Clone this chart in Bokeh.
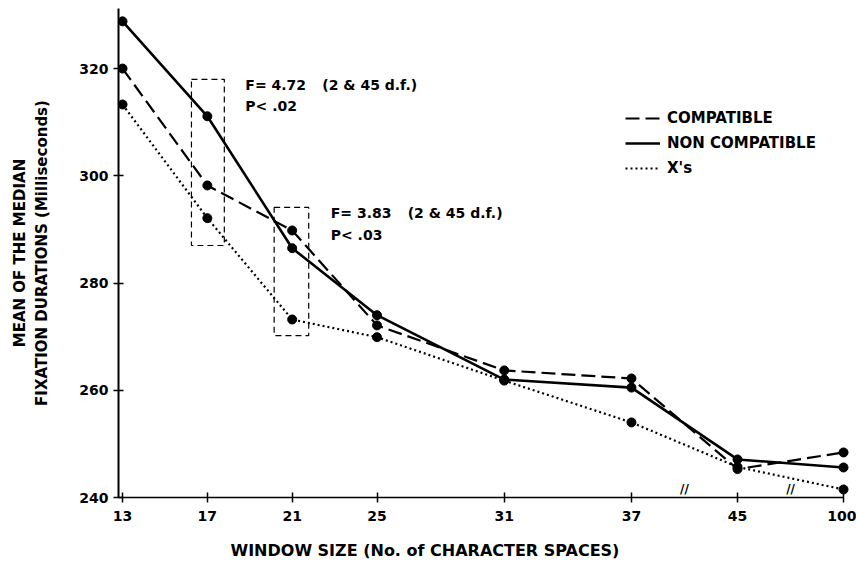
from bokeh.plotting import figure
from bokeh.models import (FixedTicker, Legend, LegendItem, Label, Title, Range1d)
from bokeh.embed import file_html
from bokeh.resources import INLINE

# Window sizes (number of character spaces) on the x axis
window_sizes = [13, 17, 21, 25, 31, 37, 45, 100]

# Mean of the median fixation durations (ms)
compatible = [320.0, 298.2, 289.8, 272.1, 263.7, 262.2, 245.3, 248.4]
non_compatible = [328.8, 311.1, 286.5, 274.0, 262.0, 260.5, 247.1, 245.6]
xs_condition = [313.3, 292.1, 273.2, 269.9, 261.8, 254.0, 245.7, 241.5]

y_ticks = [240, 260, 280, 300, 320]

# Axis is linear up to 37, then broken: each later size gets a fixed slot
LINEAR_MAX = 37
BREAK_SLOT = 5


def axis_pos(values):
    out = []
    k = 0
    for v in values:
        if v <= LINEAR_MAX:
            out.append(v)
        else:
            k += 1
            out.append(LINEAR_MAX + BREAK_SLOT * k)
    return out


x_pos = axis_pos(window_sizes)

FONT = "DejaVu Sans"
INK = "black"

x_start = x_pos[0] - 0.19
x_end = x_pos[-1] + 0.47
y_start, y_end = 240, 331.2

p = figure(width=856, height=576, output_backend="svg", toolbar_location=None,
           x_range=Range1d(x_start, x_end), y_range=Range1d(y_start, y_end),
           min_border_left=118, min_border_right=3, min_border_top=8,
           min_border_bottom=79)
p.grid.visible = False
p.outline_line_color = None
p.background_fill_color = "white"
p.border_fill_color = "white"

# --- axes ---
for ax in (p.xaxis[0], p.yaxis[0]):
    ax.axis_line_color = INK
    ax.major_tick_line_color = INK
    ax.major_tick_line_width = 1.5
    ax.major_tick_in = 5
    ax.major_tick_out = 5
    ax.minor_tick_line_color = None
    ax.major_label_text_font = FONT
    ax.major_label_text_font_style = "bold"
    ax.major_label_text_font_size = "14px"
    ax.major_label_text_color = INK

p.xaxis.ticker = FixedTicker(ticks=x_pos)
p.xaxis.major_label_overrides = {pos: str(w) for pos, w in zip(x_pos, window_sizes)}
p.xaxis.bounds = (x_start, x_pos[-1])
p.xaxis.axis_line_width = 1.5
p.xaxis.major_label_standoff = 8

p.yaxis.ticker = FixedTicker(ticks=y_ticks)
p.yaxis.axis_line_width = 2
p.yaxis.major_label_standoff = 5

# y axis title: second line as the axis label, first line as a side title
p.yaxis.axis_label = "FIXATION DURATIONS (Milliseconds)"
p.yaxis.axis_label_standoff = 25
p.yaxis.axis_label_text_font = FONT
p.yaxis.axis_label_text_font_style = "bold"
p.yaxis.axis_label_text_font_size = "15px"
p.yaxis.axis_label_text_color = INK
p.add_layout(Title(text="MEAN OF THE MEDIAN", align="center",
                   text_font=FONT, text_font_style="bold",
                   text_font_size="15px", text_color=INK, standoff=3), "left")

# x axis title
p.add_layout(Title(text="WINDOW SIZE  (No. of CHARACTER SPACES)", align="left",
                   offset=112, text_font=FONT, text_font_style="bold",
                   text_font_size="16px", text_color=INK, standoff=30), "below")

# --- significance boxes around 17 and 21 ---
p.quad(left=[17 - 0.75, 21 - 0.85], right=[17 + 0.8, 21 + 0.78],
       bottom=[287.0, 270.2], top=[318.0, 294.1],
       fill_color=None, line_color=INK, line_width=1.2, line_dash="6 4")

# --- series ---
r_comp = p.line(x_pos, compatible, line_color=INK, line_width=2.2, line_dash="14 6")
r_non = p.line(x_pos, non_compatible, line_color=INK, line_width=2.6)
r_xs = p.line(x_pos, xs_condition, line_color=INK, line_width=2.2, line_dash="2 3")
for series in (compatible, non_compatible, xs_condition):
    p.scatter(x_pos, series, size=9, color=INK)

# --- F-test annotations ---
label_style = dict(text_font=FONT, text_font_style="bold", text_font_size="14px",
                   text_color=INK, text_baseline="middle")
p.add_layout(Label(x=17 + 0.8, y=316.9, x_offset=21, text="F= 4.72", **label_style))
p.add_layout(Label(x=17 + 0.8, y=316.9, x_offset=98, text="(2 & 45 d.f.)", **label_style))
p.add_layout(Label(x=17 + 0.8, y=313.0, x_offset=21, text="P< .02", **label_style))
p.add_layout(Label(x=21 + 0.78, y=293.0, x_offset=22, text="F= 3.83", **label_style))
p.add_layout(Label(x=21 + 0.78, y=293.0, x_offset=99, text="(2 & 45 d.f.)", **label_style))
p.add_layout(Label(x=21 + 0.78, y=288.9, x_offset=22, text="P< .03", **label_style))

# --- axis break marks ---
for a, b in ((x_pos[5], x_pos[6]), (x_pos[6], x_pos[7])):
    p.add_layout(Label(x=(a + b) / 2, y=y_start, y_offset=2, text="//",
                       text_align="center", text_baseline="bottom",
                       text_font=FONT, text_font_style="bold",
                       text_font_size="12px", text_color=INK))

# --- legend ---
legend = Legend(items=[LegendItem(label="COMPATIBLE", renderers=[r_comp]),
                       LegendItem(label="NON COMPATIBLE", renderers=[r_non]),
                       LegendItem(label="X's", renderers=[r_xs])],
                location=(507, 319), border_line_color=None,
                background_fill_alpha=0, padding=0, margin=0,
                glyph_width=35, glyph_height=20, label_height=20,
                spacing=5, label_standoff=7,
                label_text_font=FONT, label_text_font_style="bold",
                label_text_font_size="15px", label_text_color=INK)
p.add_layout(legend)

open("out.html", "w").write(file_html(p, INLINE))
